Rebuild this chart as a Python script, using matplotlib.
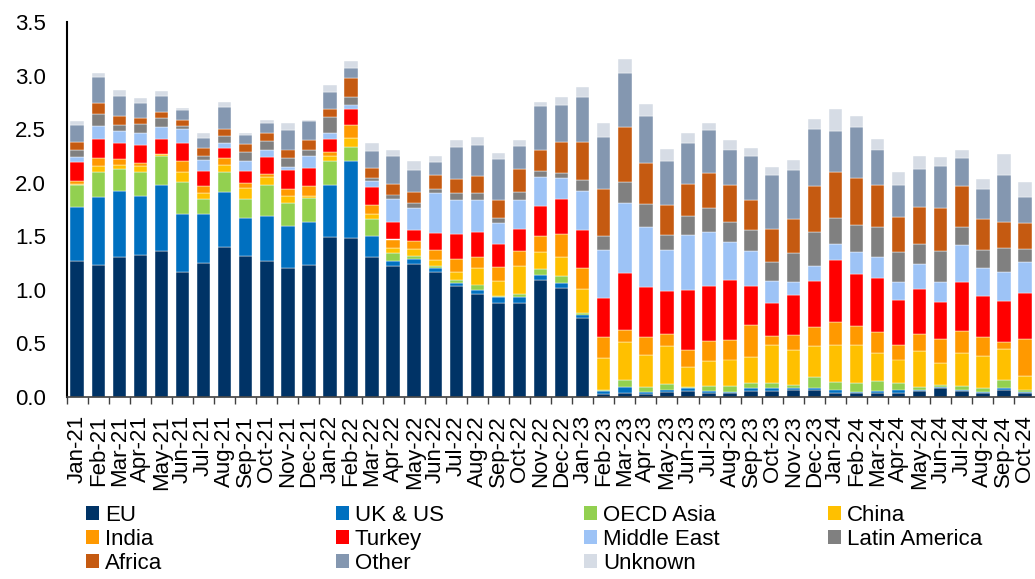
import matplotlib
matplotlib.use("Agg")
import matplotlib.pyplot as plt
import numpy as np
from matplotlib.patches import Patch

plt.rcParams['font.family'] = ['Liberation Sans', 'DejaVu Sans']

months = ["Jan-21", "Feb-21", "Mar-21", "Apr-21", "May-21", "Jun-21", "Jul-21", "Aug-21", "Sep-21", "Oct-21", "Nov-21", "Dec-21",
          "Jan-22", "Feb-22", "Mar-22", "Apr-22", "May-22", "Jun-22", "Jul-22", "Aug-22", "Sep-22", "Oct-22", "Nov-22", "Dec-22",
          "Jan-23", "Feb-23", "Mar-23", "Apr-23", "May-23", "Jun-23", "Jul-23", "Aug-23", "Sep-23", "Oct-23", "Nov-23", "Dec-23",
          "Jan-24", "Feb-24", "Mar-24", "Apr-24", "May-24", "Jun-24", "Jul-24", "Aug-24", "Sep-24", "Oct-24"]

eu = [1.27, 1.23, 1.31, 1.33, 1.36, 1.17, 1.25, 1.40, 1.32, 1.27, 1.20, 1.23,
      1.49, 1.48, 1.31, 1.22, 1.24, 1.17, 1.04, 0.96, 0.88, 0.88, 1.09, 1.02,
      0.74, 0.03, 0.04, 0.03, 0.05, 0.06, 0.04, 0.04, 0.06, 0.06, 0.07, 0.07,
      0.04, 0.04, 0.04, 0.04, 0.06, 0.08, 0.06, 0.04, 0.07, 0.04]
uk_us = [0.50, 0.64, 0.61, 0.55, 0.62, 0.54, 0.46, 0.51, 0.35, 0.42, 0.40, 0.40,
         0.49, 0.72, 0.19, 0.05, 0.05, 0.03, 0.02, 0.04, 0.05, 0.05, 0.05, 0.04,
         0.03, 0.03, 0.05, 0.02, 0.02, 0.02, 0.02, 0.01, 0.02, 0.02, 0.01, 0.01,
         0.03, 0.01, 0.02, 0.03, 0.01, 0.01, 0.01, 0.01, 0.01, 0.01]
oecd_asia = [0.21, 0.23, 0.21, 0.22, 0.27, 0.30, 0.14, 0.19, 0.18, 0.29, 0.21, 0.23,
             0.22, 0.13, 0.16, 0.07, 0.03, 0.02, 0.03, 0.05, 0.01, 0.03, 0.05, 0.07,
             0.01, 0.01, 0.07, 0.04, 0.05, 0.01, 0.04, 0.05, 0.05, 0.05, 0.03, 0.11,
             0.07, 0.08, 0.09, 0.06, 0.02, 0.02, 0.03, 0.03, 0.08, 0.02]
china = [0.01, 0.06, 0.04, 0.06, 0.02, 0.09, 0.05, 0.07, 0.10, 0.07, 0.07, 0.02,
         0.05, 0.09, 0.05, 0.05, 0.06, 0.06, 0.08, 0.15, 0.14, 0.26, 0.16, 0.18,
         0.23, 0.29, 0.35, 0.30, 0.36, 0.19, 0.24, 0.25, 0.24, 0.36, 0.33, 0.29,
         0.35, 0.36, 0.26, 0.22, 0.34, 0.21, 0.31, 0.30, 0.29, 0.13]
india = [0.03, 0.07, 0.05, 0.02, 0.00, 0.10, 0.07, 0.06, 0.05, 0.03, 0.06, 0.09,
         0.04, 0.12, 0.08, 0.08, 0.08, 0.09, 0.12, 0.11, 0.13, 0.14, 0.15, 0.21,
         0.19, 0.20, 0.12, 0.17, 0.11, 0.16, 0.18, 0.18, 0.30, 0.08, 0.14, 0.17,
         0.21, 0.17, 0.20, 0.14, 0.16, 0.22, 0.21, 0.18, 0.06, 0.34]
turkey = [0.17, 0.18, 0.15, 0.17, 0.14, 0.17, 0.14, 0.09, 0.11, 0.16, 0.18, 0.17,
          0.12, 0.15, 0.17, 0.16, 0.10, 0.16, 0.23, 0.23, 0.22, 0.21, 0.28, 0.33,
          0.36, 0.36, 0.53, 0.47, 0.40, 0.56, 0.52, 0.56, 0.37, 0.31, 0.37, 0.43,
          0.58, 0.49, 0.50, 0.42, 0.42, 0.35, 0.45, 0.38, 0.39, 0.43]
middle_east = [0.05, 0.12, 0.11, 0.11, 0.11, 0.13, 0.10, 0.05, 0.09, 0.07, 0.03, 0.11,
               0.05, 0.04, 0.06, 0.22, 0.20, 0.37, 0.32, 0.30, 0.19, 0.27, 0.27, 0.19,
               0.36, 0.45, 0.65, 0.56, 0.38, 0.51, 0.50, 0.36, 0.32, 0.20, 0.12, 0.14,
               0.15, 0.20, 0.20, 0.16, 0.23, 0.18, 0.35, 0.26, 0.27, 0.29]
latin_america = [0.07, 0.11, 0.06, 0.09, 0.08, 0.03, 0.04, 0.07, 0.09, 0.08, 0.08, 0.06,
                 0.15, 0.07, 0.02, 0.04, 0.05, 0.04, 0.06, 0.06, 0.05, 0.07, 0.06, 0.05,
                 0.11, 0.13, 0.20, 0.21, 0.14, 0.18, 0.22, 0.18, 0.20, 0.18, 0.27, 0.32,
                 0.24, 0.26, 0.28, 0.28, 0.19, 0.29, 0.17, 0.17, 0.22, 0.12]
africa = [0.07, 0.10, 0.08, 0.05, 0.06, 0.06, 0.07, 0.06, 0.07, 0.07, 0.08, 0.09,
          0.08, 0.18, 0.10, 0.10, 0.10, 0.13, 0.13, 0.16, 0.17, 0.22, 0.20, 0.29,
          0.35, 0.44, 0.51, 0.38, 0.28, 0.30, 0.33, 0.35, 0.28, 0.31, 0.32, 0.43,
          0.43, 0.43, 0.39, 0.33, 0.34, 0.40, 0.38, 0.29, 0.24, 0.24]
other = [0.16, 0.25, 0.19, 0.14, 0.15, 0.09, 0.10, 0.21, 0.09, 0.10, 0.18, 0.18,
         0.16, 0.09, 0.16, 0.26, 0.21, 0.12, 0.30, 0.29, 0.38, 0.21, 0.41, 0.35,
         0.42, 0.49, 0.50, 0.44, 0.41, 0.38, 0.40, 0.33, 0.41, 0.50, 0.46, 0.53,
         0.38, 0.48, 0.33, 0.30, 0.36, 0.40, 0.26, 0.28, 0.44, 0.25]
unknown = [0.04, 0.03, 0.06, 0.05, 0.05, 0.02, 0.04, 0.04, 0.01, 0.03, 0.07, 0.01,
           0.06, 0.07, 0.07, 0.06, 0.08, 0.06, 0.07, 0.08, 0.06, 0.06, 0.03, 0.07,
           0.09, 0.13, 0.13, 0.11, 0.11, 0.09, 0.07, 0.09, 0.07, 0.08, 0.09, 0.09,
           0.21, 0.10, 0.10, 0.12, 0.12, 0.08, 0.08, 0.09, 0.20, 0.14]

series_names = ["EU", "UK & US", "OECD Asia", "China", "India", "Turkey",
                "Middle East", "Latin America", "Africa", "Other", "Unknown"]
series_values = [eu, uk_us, oecd_asia, china, india, turkey,
                 middle_east, latin_america, africa, other, unknown]
colors = ["#003366", "#0070C0", "#92D050", "#FFC000", "#FF9900", "#FF0000",
          "#9DC3F6", "#808080", "#C55A11", "#8497B0", "#D6DCE5"]

W, H = 1035, 579
fig = plt.figure(figsize=(W / 100, H / 100), dpi=100)
ax = fig.add_axes([66.7 / W, 1 - 397 / H, (1035.5 - 66.7) / W, (397 - 22) / H])

x = np.arange(len(months))
bottom = np.zeros(len(months))
for name, vals, c in zip(series_names, series_values, colors):
    v = np.array(vals, dtype=float)
    ax.bar(x, v, width=0.64, bottom=bottom, color=c, edgecolor="white",
           linewidth=0.3, label=name)
    bottom += v

ax.set_xlim(-0.5, len(months) - 0.5)
ax.set_ylim(0, 3.5)
ax.set_yticks(np.arange(0, 3.51, 0.5))
ax.set_yticklabels([f"{t:.1f}" for t in np.arange(0, 3.51, 0.5)], fontsize=16)
ax.tick_params(axis="y", length=0, pad=15)

ax.set_xticks(x)
ax.set_xticklabels(months, rotation=90, fontsize=16)
ax.tick_params(axis="x", which="major", length=0, pad=13)
ax.set_xticks(np.arange(-0.5, len(months), 1.0), minor=True)
ax.tick_params(axis="x", which="minor", length=5, width=1.0, color="#404040", direction="out")

for s in ["top", "right"]:
    ax.spines[s].set_visible(False)
ax.spines["left"].set_linewidth(1.5)
ax.spines["left"].set_color("black")
ax.spines["bottom"].set_linewidth(1.2)
ax.spines["bottom"].set_color("#404040")

# legend: four columns placed like the reference
handles = {n: Patch(facecolor=c, edgecolor="none") for n, c in zip(series_names, colors)}
columns = [["EU", "India", "Africa"],
           ["UK & US", "Turkey", "Other"],
           ["OECD Asia", "Middle East", "Unknown"],
           ["China", "Latin America"]]
col_x = [86, 336, 584, 828]
for names, cx in zip(columns, col_x):
    fig.legend([handles[n] for n in names], names, loc="upper left",
               bbox_to_anchor=(cx / W, 1 - 505 / H), frameon=False, fontsize=16,
               handlelength=0.6, handleheight=0.6, handletextpad=0.25,
               labelspacing=0.13, borderpad=0, borderaxespad=0)

fig.savefig("out.png", dpi=100)
